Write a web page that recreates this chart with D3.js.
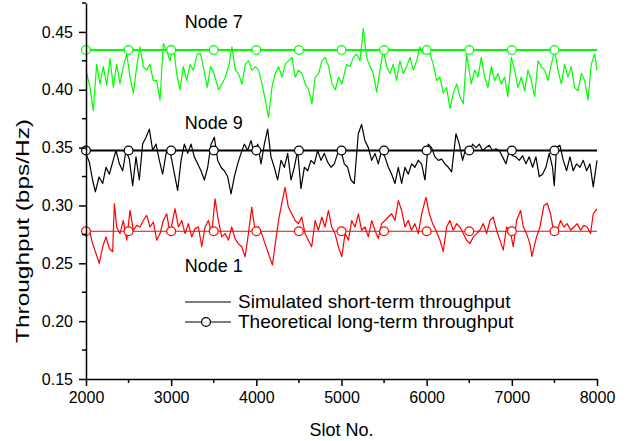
<!DOCTYPE html>
<html>
<head>
<meta charset="utf-8">
<script src="https://cdn.jsdelivr.net/npm/d3@7"></script>
<style>
  body { margin: 0; background: #fff; }
  text { font-family: "Liberation Sans", Arial, Helvetica, sans-serif; }
</style>
</head>
<body>
<div id="chart"></div>
<script>
// Data
const xTicks = [2000, 3000, 4000, 5000, 6000, 7000, 8000];
const xMinor = [2500, 3500, 4500, 5500, 6500, 7500];
const yTicks = [0.15, 0.20, 0.25, 0.30, 0.35, 0.40, 0.45];
const yMinor = [0.175, 0.225, 0.275, 0.325, 0.375, 0.425, 0.475];

const nodeNames = ["Node 7", "Node 9", "Node 1"];
const longTerm = [0.4344, 0.3475, 0.2777];
const markerSlots = [2000, 2500, 3000, 3500, 4000, 4500, 5000, 5500, 6000, 6500, 7000, 7500];
// where the node labels sit (slot, throughput at baseline)
const labelSlot = [3500, 3500, 3500];
const labelValue = [0.453, 0.3661, 0.2429];

const node7Sim = [[2000,.417],[2047,.402],[2086,.382],[2125,.422],[2164,.405],[2203,.42],[2243,.404],[2282,.427],[2321,.402],[2360,.422],
  [2399,.405],[2438,.42],[2478,.431],[2517,.411],[2556,.397],[2595,.42],[2634,.437],[2673,.42],[2713,.417],[2751,.422],
  [2790,.408],[2830,.408],[2869,.391],[2908,.44],[2947,.434],[2986,.425],[3025,.438],[3065,.414],[3104,.4],[3143,.42],
  [3182,.408],[3221,.422],[3260,.417],[3307,.431],[3346,.431],[3385,.417],[3424,.402],[3463,.42],[3503,.414],[3557,.4],
  [3596,.405],[3636,.411],[3675,.42],[3714,.437],[3753,.417],[3792,.414],[3831,.405],[3870,.422],[3909,.425],[3948,.417],
  [3988,.42],[4027,.417],[4066,.405],[4105,.391],[4144,.376],[4183,.402],[4222,.414],[4262,.42],[4301,.411],[4340,.422],
  [4379,.425],[4418,.428],[4457,.411],[4496,.417],[4535,.414],[4575,.405],[4614,.4],[4653,.388],[4692,.411],[4731,.414],
  [4770,.425],[4809,.428],[4849,.42],[4888,.405],[4927,.4],[4966,.411],[5005,.405],[5060,.422],[5099,.42],[5139,.428],
  [5178,.431],[5217,.425],[5256,.453],[5295,.428],[5334,.42],[5373,.414],[5412,.398],[5452,.417],[5491,.434],[5530,.42],
  [5569,.414],[5608,.422],[5647,.408],[5686,.425],[5726,.414],[5765,.42],[5804,.428],[5843,.417],[5882,.425],[5921,.437],
  [5960,.431],[6000,.437],[6039,.431],[6078,.422],[6117,.408],[6156,.411],[6195,.397],[6234,.402],[6274,.384],[6313,.397],
  [6352,.405],[6391,.394],[6430,.388],[6469,.431],[6524,.405],[6563,.417],[6602,.411],[6641,.428],[6681,.411],[6720,.402],
  [6759,.42],[6798,.408],[6837,.414],[6876,.405],[6915,.411],[6954,.394],[6994,.428],[7033,.417],[7072,.402],[7111,.411],
  [7150,.399],[7189,.417],[7229,.408],[7268,.394],[7307,.425],[7346,.42],[7385,.417],[7424,.408],[7464,.422],[7503,.434],
  [7542,.417],[7581,.405],[7620,.422],[7659,.411],[7698,.42],[7737,.402],[7777,.399],[7816,.414],[7855,.408],[7894,.391],
  [7933,.422],[7972,.431],[8000,.417]];

const node9Sim = [[2000,.3446],[2039,.3375],[2078,.3218],[2110,.3118],[2153,.3246],[2196,.319],[2235,.333],[2274,.327],[2313,.3375],[2352,.3475],
  [2392,.336],[2431,.330],[2470,.3475],[2509,.340],[2548,.317],[2587,.342],[2626,.322],[2665,.3532],[2705,.359],[2744,.366],
  [2783,.3475],[2822,.353],[2861,.339],[2900,.327],[2940,.345],[2979,.350],[3018,.335],[3076,.313],[3116,.339],[3155,.353],
  [3194,.345],[3233,.353],[3272,.342],[3311,.336],[3350,.330],[3390,.322],[3429,.333],[3468,.353],[3507,.359],[3546,.339],
  [3585,.333],[3624,.330],[3663,.325],[3703,.310],[3742,.325],[3781,.336],[3820,.345],[3859,.353],[3898,.3475],[3937,.356],
  [3976,.345],[4016,.353],[4055,.336],[4094,.353],[4133,.366],[4172,.342],[4211,.333],[4250,.322],[4290,.339],[4329,.333],
  [4368,.345],[4407,.322],[4446,.333],[4485,.3475],[4524,.3146],[4564,.333],[4603,.330],[4642,.339],[4681,.336],[4720,.3475],
  [4759,.339],[4798,.345],[4837,.3375],[4877,.333],[4916,.336],[4955,.345],[4994,.3475],[5033,.336],[5072,.333],[5111,.322],
  [5150,.319],[5197,.362],[5236,.370],[5275,.356],[5315,.350],[5354,.339],[5393,.345],[5432,.336],[5471,.3475],[5510,.342],
  [5550,.333],[5589,.327],[5628,.319],[5667,.333],[5706,.319],[5745,.333],[5784,.327],[5823,.336],[5862,.333],[5902,.339],
  [5941,.336],[5980,.322],[6019,.353],[6058,.350],[6097,.342],[6137,.339],[6176,.340],[6215,.336],[6254,.333],[6293,.329],
  [6344,.362],[6383,.353],[6422,.339],[6461,.350],[6500,.345],[6539,.353],[6579,.350],[6618,.353],[6657,.3475],[6696,.350],
  [6735,.352],[6774,.3475],[6813,.349],[6852,.3475],[6891,.342],[6931,.336],[6970,.3475],[7009,.343],[7048,.342],[7087,.339],
  [7126,.343],[7165,.336],[7204,.342],[7244,.333],[7283,.342],[7322,.325],[7361,.327],[7400,.333],[7439,.345],[7478,.333],
  [7498,.317],[7525,.350],[7565,.352],[7604,.339],[7643,.330],[7682,.342],[7721,.330],[7760,.336],[7800,.333],[7839,.339],
  [7878,.330],[7917,.336],[7956,.316],[8000,.339]];

const node1Sim = [[2000,.273],[2039,.2786],[2078,.267],[2110,.26],[2156,.25],[2196,.2643],[2235,.2728],[2274,.2628],[2313,.26],[2333,.3014],
  [2360,.2814],[2399,.2757],[2438,.287],[2478,.27],[2517,.2957],[2556,.2786],[2595,.2828],[2634,.2814],[2673,.287],[2713,.2914],
  [2752,.2814],[2791,.2857],[2830,.27],[2869,.2757],[2908,.287],[2948,.2928],[2987,.2757],[3045,.2972],[3085,.2814],[3124,.287],
  [3163,.2757],[3202,.2843],[3241,.2728],[3280,.28],[3320,.2814],[3359,.2643],[3398,.2814],[3437,.287],[3476,.2757],[3515,.3057],
  [3554,.287],[3594,.2728],[3633,.2757],[3672,.27],[3711,.2814],[3750,.2714],[3789,.267],[3828,.2643],[3868,.2557],[3907,.2757],
  [3946,.2986],[3985,.2786],[4024,.2814],[4063,.2757],[4102,.267],[4142,.2585],[4189,.2485],[4228,.27],[4267,.29],[4306,.3043],
  [4337,.3157],[4376,.2986],[4416,.2928],[4455,.287],[4494,.2843],[4533,.29],[4572,.2757],[4611,.27],[4650,.2643],[4690,.287],
  [4729,.2786],[4768,.29],[4807,.2814],[4846,.2957],[4885,.2814],[4924,.2757],[4964,.2643],[5003,.2557],[5042,.2757],[5081,.27],
  [5120,.287],[5159,.2814],[5198,.2928],[5236,.2786],[5275,.2814],[5315,.2728],[5354,.287],[5393,.2786],[5432,.2714],[5471,.2843],
  [5510,.287],[5550,.29],[5589,.2928],[5628,.287],[5667,.3043],[5706,.2957],[5745,.2814],[5784,.287],[5823,.2786],[5862,.2843],
  [5902,.2757],[5941,.2928],[5992,.3071],[6031,.2928],[6070,.2843],[6109,.2786],[6156,.27],[6195,.26],[6234,.2814],[6273,.287],
  [6312,.2786],[6352,.2843],[6391,.2814],[6430,.2757],[6469,.27],[6508,.267],[6547,.2728],[6586,.2757],[6625,.2786],[6665,.2843],
  [6704,.2757],[6743,.287],[6782,.29],[6821,.2786],[6860,.27],[6899,.2614],[6938,.2814],[6978,.2786],[7017,.2643],[7056,.287],
  [7103,.2957],[7134,.2814],[7173,.2757],[7212,.267],[7235,.256],[7290,.2728],[7330,.2814],[7377,.3],[7416,.3018],[7455,.2928],
  [7494,.2757],[7533,.2786],[7572,.287],[7611,.2814],[7650,.2843],[7690,.2786],[7729,.2814],[7768,.2843],[7807,.2786],[7846,.2828],
  [7885,.2814],[7924,.2757],[7956,.2928],[8000,.297]];

const simulated = [node7Sim, node9Sim, node1Sim];

// styles
const colors = ["#00ff00", "#000000", "#ff0000"];
const longWidth = [2, 2, 1];

const W = 638, H = 441;
const plot = { left: 86, right: 597, top: 3, bottom: 379 };

const svg = d3.select("#chart").append("svg")
  .attr("width", W)
  .attr("height", H);

const x = d3.scaleLinear().domain([2000, 8000]).range([plot.left, plot.right]);
const y = d3.scaleLinear().domain([0.15, 0.475]).range([plot.bottom, plot.top]);

// simulated short-term throughput
const line = d3.line().x(d => x(d[0])).y(d => y(d[1]));
simulated.forEach((s, i) => {
  svg.append("path")
    .datum(s)
    .attr("fill", "none")
    .attr("stroke", colors[i])
    .attr("stroke-width", 1.2)
    .attr("stroke-linejoin", "round")
    .attr("d", line);
});

// theoretical long-term throughput
longTerm.forEach((v, i) => {
  svg.append("line")
    .attr("x1", x(2000)).attr("x2", x(8000))
    .attr("y1", y(v)).attr("y2", y(v))
    .attr("stroke", colors[i])
    .attr("stroke-width", longWidth[i]);
  svg.selectAll(null)
    .data(markerSlots)
    .enter()
    .append("circle")
    .attr("cx", d => x(d))
    .attr("cy", y(v))
    .attr("r", 4.4)
    .attr("fill", "#fff")
    .attr("stroke", colors[i])
    .attr("stroke-width", 1.2);
});

// node labels
nodeNames.forEach((n, i) => {
  svg.append("text")
    .attr("x", x(labelSlot[i]))
    .attr("y", y(labelValue[i]))
    .attr("text-anchor", "middle")
    .style("font-size", "18px")
    .text(n);
});

// axes
const xAxis = svg.append("g")
  .attr("transform", `translate(0,${plot.bottom})`)
  .call(d3.axisBottom(x).tickValues(xTicks).tickFormat(d3.format("d"))
    .tickSize(7).tickSizeOuter(0).tickPadding(6));
xAxis.selectAll("text").style("font-size", "16px").attr("fill", "#000");
xAxis.selectAll("line, path").attr("stroke", "#000").attr("stroke-width", 1.5);
xAxis.selectAll(".minor")
  .data(xMinor).enter().append("line")
  .attr("x1", d => x(d)).attr("x2", d => x(d))
  .attr("y1", 0).attr("y2", 4)
  .attr("stroke", "#000").attr("stroke-width", 1.5);

const yAxis = svg.append("g")
  .attr("transform", `translate(${plot.left},0)`)
  .call(d3.axisLeft(y).tickValues(yTicks).tickFormat(d3.format(".2f"))
    .tickSize(7).tickSizeOuter(0).tickPadding(6));
yAxis.selectAll("text").style("font-size", "16px").attr("fill", "#000");
yAxis.selectAll("line, path").attr("stroke", "#000").attr("stroke-width", 1.5);
yAxis.selectAll(".minor")
  .data(yMinor).enter().append("line")
  .attr("x1", 0).attr("x2", -4)
  .attr("y1", d => y(d)).attr("y2", d => y(d))
  .attr("stroke", "#000").attr("stroke-width", 1.5);

// axis titles
svg.append("text")
  .attr("x", (plot.left + plot.right) / 2)
  .attr("y", 436)
  .attr("text-anchor", "middle")
  .style("font-size", "18px")
  .text("Slot No.");

svg.append("text")
  .attr("transform", "translate(29,231) rotate(-90)")
  .attr("text-anchor", "middle")
  .attr("textLength", 224)
  .attr("lengthAdjust", "spacingAndGlyphs")
  .style("font-size", "19px")
  .text("Throughput (bps/Hz)");

// legend
const legend = svg.append("g");
const legendRows = ["Simulated short-term throughput", "Theoretical long-term throughput"];
legendRows.forEach((t, i) => {
  const ly = 302 + i * 20;
  legend.append("line")
    .attr("x1", 185).attr("x2", 231)
    .attr("y1", ly).attr("y2", ly)
    .attr("stroke", "#000").attr("stroke-width", 1);
  if (i === 1) {
    legend.append("circle")
      .attr("cx", 206).attr("cy", ly).attr("r", 4.4)
      .attr("fill", "#fff").attr("stroke", "#000").attr("stroke-width", 1.2);
  }
  legend.append("text")
    .attr("x", 238).attr("y", ly + 6)
    .style("font-size", "19px")
    .text(t);
});
</script>
</body>
</html>
